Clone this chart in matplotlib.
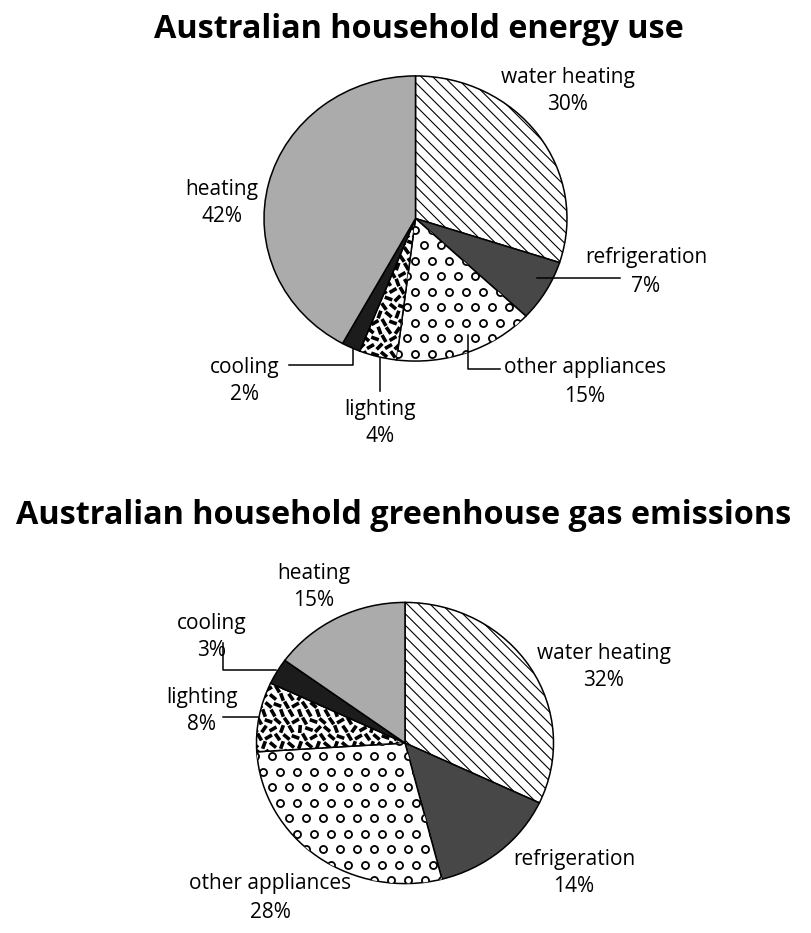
import numpy as np
import matplotlib.pyplot as plt
from matplotlib.collections import LineCollection

plt.rcParams['font.family'] = ['Open Sans', 'DejaVu Sans']

categories = ["water heating", "refrigeration", "other appliances", "lighting", "cooling", "heating"]
energy_use = [30, 7, 15, 4, 2, 42]
emissions = [32, 14, 28, 8, 3, 15]

W, H = 812, 933
fig = plt.figure(figsize=(W / 100, H / 100), dpi=100)

# overlay axes in image pixel coords (y down) for text, leaders, textures
ov = fig.add_axes([0, 0, 1, 1], zorder=5)
ov.set_xlim(0, W)
ov.set_ylim(H, 0)
ov.axis('off')
ov.patch.set_alpha(0)

colors = ['white', '#474747', 'white', 'white', '#1c1c1c', '#ababab']


def draw_pie(values, cx, cy, w, h):
    ax = fig.add_axes([(cx - w / 2) / W, 1 - (cy + h / 2) / H, w / W, h / H])
    wedges, _ = ax.pie(values, colors=colors, startangle=90,
                       counterclock=False, radius=1,
                       wedgeprops=dict(edgecolor='black', linewidth=1.1))
    ax.set_aspect('auto')
    ax.set_xlim(-1.01, 1.01)
    ax.set_ylim(-1.01, 1.01)
    ax.axis('off')

    # diagonal lines for water heating
    segs = []
    for c in np.arange(-2 * w, 2 * w, 11.5):
        x0, x1 = cx - w, cx + w
        segs.append([(x0, cy - w + c - w), (x1, cy + w + c - w)])
    lc = LineCollection(segs, colors='black', linewidths=0.8)
    ov.add_collection(lc)
    lc.set_clip_path(wedges[0])

    # small rings for other appliances
    px, py = [], []
    for j, yy in enumerate(np.arange(cy - h / 2, cy + h / 2, 15.5)):
        off = 8.5 if j % 2 else 0
        for xx in np.arange(cx - w / 2 + off, cx + w / 2, 17):
            px.append(xx)
            py.append(yy)
    sc = ov.scatter(px, py, s=26, facecolors='white', edgecolors='black', linewidths=1.3)
    sc.set_clip_path(wedges[2])

    # short dashes for lighting
    angs = [60, 125, 40, 95, 150, 70, 20, 110, 55, 135]
    dash = []
    k = 0
    for j, yy in enumerate(np.arange(cy - h / 2, cy + h / 2, 8)):
        off = 4.5 if j % 2 else 0
        for xx in np.arange(cx - w / 2 + off, cx + w / 2, 9):
            a = np.radians(angs[k % len(angs)])
            k += 3 + j % 4
            dx, dy = 4 * np.cos(a), 4 * np.sin(a)
            dash.append([(xx - dx, yy - dy), (xx + dx, yy + dy)])
    dc = LineCollection(dash, colors='black', linewidths=2.6, capstyle='butt')
    ov.add_collection(dc)
    dc.set_clip_path(wedges[3])
    return wedges


draw_pie(energy_use, 415.5, 218.5, 306, 288)
draw_pie(emissions, 405, 743, 300, 284)

ov.text(419, 30, "Australian household energy use", ha='center', va='center',
        fontsize=23.3, fontweight='bold')
ov.text(404, 515, "Australian household greenhouse gas emissions", ha='center', va='center',
        fontsize=23.3, fontweight='bold')

fs = 15
top_pos = [(568, 77, 104), (646, 257, 286), (585, 368, 396), (380, 410, 436), (245, 367, 394), (222, 189, 216)]
bot_pos = [(604, 654, 681), (574, 860, 886), (270, 884, 912), (202, 698, 725), (212, 623, 651), (314, 574, 600)]

for pos, vals in [(top_pos, energy_use), (bot_pos, emissions)]:
    for (x, y1, y2), name, v in zip(pos, categories, vals):
        ov.text(x, y1, name, ha='center', va='center', fontsize=fs)
        ov.text(x, y2, f"{v}%", ha='center', va='center', fontsize=fs)

leaders = [
    [(537, 278), (620, 278)],
    [(468, 335), (468, 369), (500, 369)],
    [(380, 358), (380, 391)],
    [(289, 365), (353, 365), (353, 349)],
    [(223, 643), (223, 670), (276, 670)],
    [(223, 717), (258, 717)],
]
for pts in leaders:
    xs, ys = zip(*pts)
    ov.plot(xs, ys, color='black', linewidth=1.1)

fig.savefig('out.png', dpi=100, facecolor='white')
